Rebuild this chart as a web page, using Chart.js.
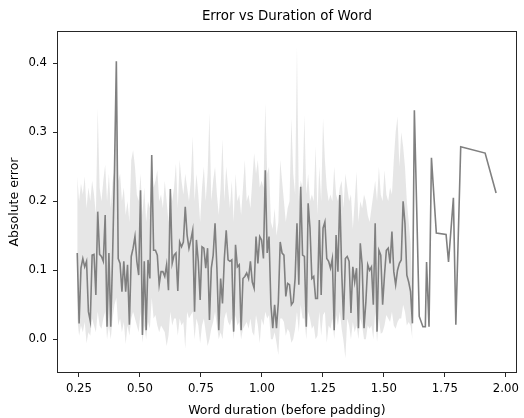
<!DOCTYPE html>
<html>
<head>
<meta charset="utf-8">
<title>Error vs Duration of Word</title>
<script src="https://cdn.jsdelivr.net/npm/chart.js@4.4.1/dist/chart.umd.min.js"></script>
<style>
  body { margin: 0; background: #fff; }
  #error_chart { display: block; }
</style>
</head>
<body>
<canvas id="error_chart" width="524" height="418"></canvas>
<script>
// word durations (seconds) of the densely sampled part run evenly from first to last
const denseFirst = 0.243;
const denseLast = 1.617;

// mean absolute error per word duration
const meanError = [
  0.125,0.023,0.103,0.117,0.105,0.113,0.04,0.026,0.122,0.123,
  0.064,0.185,0.123,0.12,0.113,0.18,0.018,0.125,0.018,0.122,
  0.245,0.403,0.117,0.11,0.069,0.113,0.069,0.108,0.021,0.12,
  0.132,0.149,0.113,0.093,0.216,0.006,0.113,0.013,0.115,0.088,
  0.267,0.129,0.129,0.122,0.079,0.098,0.098,0.091,0.108,0.071,
  0.218,0.11,0.122,0.125,0.07,0.141,0.134,0.141,0.192,0.151,
  0.132,0.144,0.158,0.04,0.144,0.113,0.057,0.134,0.132,0.103,
  0.132,0.028,0.103,0.122,0.168,0.103,0.013,0.088,0.052,0.117,
  0.158,0.115,0.113,0.115,0.011,0.137,0.105,0.108,0.013,0.088,
  0.091,0.096,0.088,0.113,0.083,0.074,0.149,0.11,0.149,0.144,
  0.117,0.245,0.125,0.149,0.05,0.016,0.05,0.016,0.054,0.141,
  0.125,0.122,0.062,0.081,0.079,0.05,0.054,0.088,0.168,0.079,
  0.221,0.122,0.12,0.018,0.197,0.161,0.088,0.091,0.059,0.059,
  0.173,0.064,0.161,0.17,0.117,0.113,0.103,0.117,0.013,0.151,
  0.098,0.209,0.1,0.028,0.117,0.12,0.113,0.038,0.105,0.083,
  0.103,0.016,0.139,0.108,0.016,0.054,0.108,0.1,0.105,0.05,
  0.168,0.011,0.129,0.122,0.05,0.093,0.129,0.132,0.11,0.156,
  0.098,0.079,0.1,0.11,0.115,0.2,0.168,0.093,0.083,0.069,
  0.023
];

// confidence interval of the mean (upper / lower)
const ciHigh = [
  0.236,0.2,0.226,0.21,0.236,0.19,0.22,0.2,0.23,0.21,
  0.18,0.335,0.22,0.2,0.23,0.253,0.2,0.24,0.19,0.23,
  0.245,0.403,0.23,0.24,0.2,0.22,0.18,0.2,0.17,0.26,
  0.274,0.25,0.21,0.2,0.24,0.18,0.22,0.17,0.2,0.19,
  0.267,0.22,0.23,0.245,0.2,0.21,0.19,0.23,0.2,0.17,
  0.22,0.2,0.22,0.255,0.19,0.26,0.23,0.21,0.24,0.22,
  0.2,0.23,0.294,0.2,0.24,0.21,0.17,0.22,0.25,0.2,
  0.24,0.328,0.2,0.23,0.25,0.21,0.18,0.22,0.29,0.2,
  0.25,0.22,0.19,0.23,0.17,0.24,0.2,0.21,0.18,0.22,
  0.26,0.2,0.21,0.19,0.23,0.27,0.24,0.26,0.22,0.23,
  0.22,0.342,0.24,0.25,0.17,0.16,0.19,0.15,0.17,0.26,
  0.23,0.2,0.17,0.19,0.2,0.32,0.24,0.21,0.424,0.2,
  0.23,0.22,0.325,0.21,0.24,0.2,0.21,0.2,0.28,0.18,
  0.25,0.2,0.32,0.26,0.22,0.2,0.21,0.2,0.25,0.21,
  0.2,0.22,0.23,0.19,0.24,0.22,0.2,0.21,0.16,0.2,
  0.243,0.17,0.2,0.19,0.21,0.2,0.18,0.17,0.19,0.21,
  0.23,0.2,0.25,0.21,0.2,0.245,0.21,0.2,0.22,0.21,
  0.26,0.3,0.323,0.25,0.3,0.28,0.25,0.2,0.17,0.14,
  0.06
];
const ciLow = [
  0.03,0.005,0.02,0.01,0.025,-0.006,0.01,0.005,0.03,0.02,
  0.01,0.04,0.02,0.015,0.03,0.04,0.0,0.02,0.0,0.03,
  0.05,0.06,0.02,0.03,0.01,0.025,-0.007,0.02,0.005,0.03,
  0.04,0.03,0.02,0.01,0.04,-0.005,0.02,0.0,0.025,0.015,
  0.06,0.03,0.035,0.02,0.01,0.02,0.015,0.01,-0.01,0.005,
  0.04,0.02,0.03,0.03,0.005,0.03,0.02,0.025,-0.014,0.04,
  0.03,0.035,0.04,0.0,0.03,0.02,-0.006,0.02,0.03,0.01,
  -0.01,0.0,0.015,0.025,0.04,0.02,0.0,0.01,0.0,0.03,
  0.04,0.025,0.02,0.03,0.0,0.035,0.02,0.025,0.0,0.015,
  0.02,0.025,0.015,0.03,0.01,0.005,0.035,0.02,-0.006,0.03,
  0.02,0.04,0.03,0.035,0.0,0.0,0.01,-0.005,-0.023,0.03,
  0.03,0.025,0.005,0.015,0.01,-0.005,0.0,0.015,0.04,0.01,
  0.05,0.03,0.03,0.0,0.04,0.03,0.015,0.02,0.0,0.005,
  0.04,0.005,0.035,0.04,-0.005,0.02,0.015,0.03,0.0,0.035,
  0.02,0.04,0.015,-0.003,-0.028,0.03,0.02,0.0,0.025,0.01,
  0.02,0.0,0.03,0.02,0.0,0.0,0.02,0.015,0.02,0.0,
  0.04,-0.004,0.03,0.008,0.01,0.02,0.035,0.03,0.025,0.04,
  0.02,0.015,0.025,0.03,0.03,0.05,0.04,0.02,0.025,0.02,
  0.0
];

// long words: one sample each, so no interval
const tailDurations = [1.625,1.645,1.66,1.67,1.675,1.685,1.695,1.715,1.755,1.765,1.785,1.795,1.815,1.915,1.96];
const tailError = [0.332,0.033,0.018,0.018,0.112,0.018,0.263,0.154,0.152,0.112,0.205,0.021,0.279,0.27,0.212];

const xTicks = [0.25, 0.5, 0.75, 1.0, 1.25, 1.5, 1.75, 2.0];
const yTicks = [0.0, 0.1, 0.2, 0.3, 0.4];
const titulo = 'Error vs Duration of Word';

const FONT = "'DejaVu Sans', sans-serif";

function duracion(i) {
  return denseFirst + (denseLast - denseFirst) * i / (meanError.length - 1);
}

const lineaMedia = meanError.map((v, i) => ({ x: duracion(i), y: v }))
  .concat(tailDurations.map((d, i) => ({ x: d, y: tailError[i] })));
const bandaAlta = ciHigh.map((v, i) => ({ x: duracion(i), y: v }));
const bandaBaja = ciLow.map((v, i) => ({ x: duracion(i), y: v }));

// frame around the plot area (all four spines) + title centred over the axes
const marco = {
  id: 'marco',
  afterDraw(chart) {
    const a = chart.chartArea;
    const ctx = chart.ctx;
    ctx.save();
    ctx.strokeStyle = '#262626';
    ctx.lineWidth = 1;
    ctx.strokeRect(Math.round(a.left) + 0.5, Math.round(a.top) + 0.5,
      Math.round(a.right - a.left) - 1, Math.round(a.bottom - a.top) - 1);

    ctx.fillStyle = '#000';
    ctx.font = '13.4px ' + FONT;
    ctx.textAlign = 'center';
    ctx.textBaseline = 'middle';
    ctx.fillText(titulo, (a.left + a.right) / 2, a.top - 14);
    ctx.restore();
  }
};

const ctx = document.getElementById('error_chart').getContext('2d');
new Chart(ctx, {
  type: 'line',
  data: {
    datasets: [
      {
        label: 'mean',
        data: lineaMedia,
        borderColor: '#808080',
        borderWidth: 1.6,
        pointRadius: 0,
        fill: false,
        tension: 0,
        order: 0
      },
      {
        label: 'ci_high',
        data: bandaAlta,
        borderWidth: 0,
        borderColor: 'rgba(0,0,0,0)',
        backgroundColor: 'rgba(128,128,128,0.2)',
        pointRadius: 0,
        fill: '+1',
        tension: 0,
        order: 1
      },
      {
        label: 'ci_low',
        data: bandaBaja,
        borderWidth: 0,
        borderColor: 'rgba(0,0,0,0)',
        pointRadius: 0,
        fill: false,
        tension: 0,
        order: 2
      }
    ]
  },
  options: {
    responsive: false,
    animation: false,
    layout: { padding: { left: 0, right: 6, top: 31, bottom: 0 } },
    plugins: {
      legend: { display: false },
      tooltip: { enabled: false },
      title: { display: false }
    },
    scales: {
      x: {
        type: 'linear',
        min: 0.16,
        max: 2.045,
        afterFit(scale) { scale.height = 45; },
        afterBuildTicks(scale) { scale.ticks = xTicks.map(v => ({ value: v })); },
        grid: { drawOnChartArea: false, drawTicks: true, tickLength: 4, color: '#262626', tickWidth: 1 },
        border: { display: false },
        ticks: {
          color: '#000',
          font: { family: FONT, size: 11.7 },
          padding: 5,
          maxRotation: 0,
          autoSkip: false,
          callback: v => v.toFixed(2)
        },
        title: {
          display: true,
          text: 'Word duration (before padding)',
          color: '#000',
          font: { family: FONT, size: 12.5 },
          padding: { top: 1, bottom: 0 }
        }
      },
      y: {
        type: 'linear',
        min: -0.049,
        max: 0.447,
        afterFit(scale) { scale.width = 57; },
        afterBuildTicks(scale) { scale.ticks = yTicks.map(v => ({ value: v })); },
        grid: { drawOnChartArea: false, drawTicks: true, tickLength: 4, color: '#262626', tickWidth: 1 },
        border: { display: false },
        ticks: {
          color: '#000',
          font: { family: FONT, size: 11.7 },
          padding: 6,
          autoSkip: false,
          callback: v => v.toFixed(1)
        },
        title: {
          display: true,
          text: 'Absolute error',
          color: '#000',
          font: { family: FONT, size: 12.5 },
          padding: { top: 7, bottom: 4 }
        }
      }
    }
  },
  plugins: [marco]
});
</script>
</body>
</html>
